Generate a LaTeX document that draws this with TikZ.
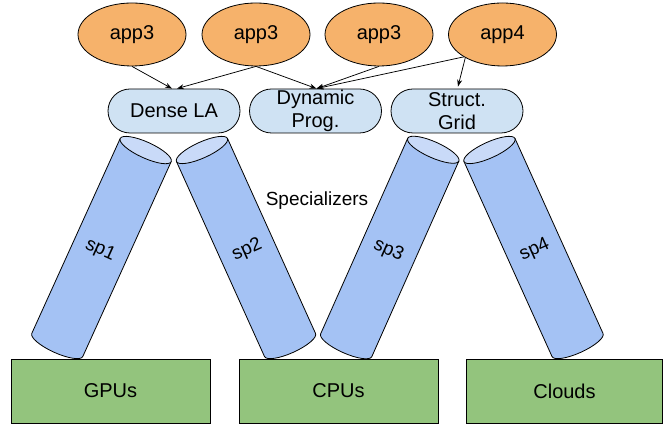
\documentclass[tikz,border=0pt]{standalone}
\usepackage{fontspec}
\setmainfont{Liberation Sans}
\usetikzlibrary{shapes.geometric,arrows.meta}
\definecolor{apporange}{HTML}{F6B26B}
\definecolor{dslblue}{HTML}{CFE2F3}
\definecolor{cylbody}{HTML}{A4C2F4}
\definecolor{cyltop}{HTML}{C9DAF8}
\definecolor{hwgreen}{HTML}{93C47D}
\newcommand{\spcyl}[5]{%
  \begin{scope}[shift={(#2,#3)},rotate=#4]
    \path[cylline, fill=cylbody] (-28,107) -- (-28,-107)
      arc[start angle=180, end angle=360, x radius=28, y radius=8] -- (28,107) -- cycle;
    \path[cylline, fill=cyltop] (0,107) ellipse[x radius=28, y radius=8];
    \node[splabel] (#1) at (0,-3) {#5};
  \end{scope}}
\begin{document}
\begin{tikzpicture}[x=1pt,y=1pt,
  app/.style={ellipse, draw, line width=0.8pt, fill=apporange, minimum width=108pt,
    minimum height=63pt, inner sep=0pt, font=\fontsize{20}{23}\selectfont},
  dsl/.style={rectangle, draw, line width=0.8pt, fill=dslblue, rounded corners=22pt,
    minimum width=132pt, minimum height=44pt, inner sep=0pt, align=center,
    font=\fontsize{20}{23}\selectfont},
  hw/.style={rectangle, draw, line width=0.8pt, fill=hwgreen, minimum height=64pt,
    inner sep=0pt, font=\fontsize{20}{23}\selectfont},
  cylline/.style={draw=black, line width=0.8pt},
  splabel/.style={transform shape, inner sep=0pt, font=\fontsize{19}{22}\selectfont},
  arr/.style={-{Stealth[length=7pt,width=5pt]}, line width=0.75pt}]
\useasboundingbox (0,0) rectangle (665,425);

% hardware
\node[hw, minimum width=199pt] (gpu) at (110.5,34) {GPUs};
\node[hw, minimum width=199pt] (cpu) at (338.5,34) {CPUs};
\node[hw, minimum width=196pt] (cloud) at (564.5,34) {Clouds};

% specializers
\spcyl{sp1}{101.5}{177.5}{-24.4}{sp1}
\spcyl{sp2}{246}{177.5}{24.3}{sp2}
\spcyl{sp3}{389.75}{177.5}{-24}{sp3}
\spcyl{sp4}{533.5}{177.5}{24.3}{sp4}
\node[font=\fontsize{19}{22}\selectfont] (spec) at (317,224) {Specializers};

% DSL boxes
\node[dsl] (dense) at (174,314) {Dense LA};
\node[dsl] (dyn) at (315.5,314) {Dynamic\\Prog.};
\node[dsl] (grid) at (457,314) {Struct.\\Grid};

% apps
\node[app] (a1) at (132,390.5) {app3};
\node[app] (a2) at (256,390.5) {app3};
\node[app] (a3) at (379,390.5) {app3};
\node[app] (a4) at (502.5,390.5) {app4};

% arrows
\draw[arr] (a1.south) -- ([xshift=-2pt]dense.north);
\draw[arr] (a2.south) -- ([xshift=3pt]dense.north);
\draw[arr] (a2.south) -- ([xshift=1pt]dyn.north);
\draw[arr] (a3.south) -- ([xshift=1pt]dyn.north);
\draw[arr] (a4.210) -- ([xshift=1pt]dyn.north);
\draw[arr] (a4.212) -- ([xshift=1pt,yshift=2pt]grid.north);
\end{tikzpicture}
\end{document}
